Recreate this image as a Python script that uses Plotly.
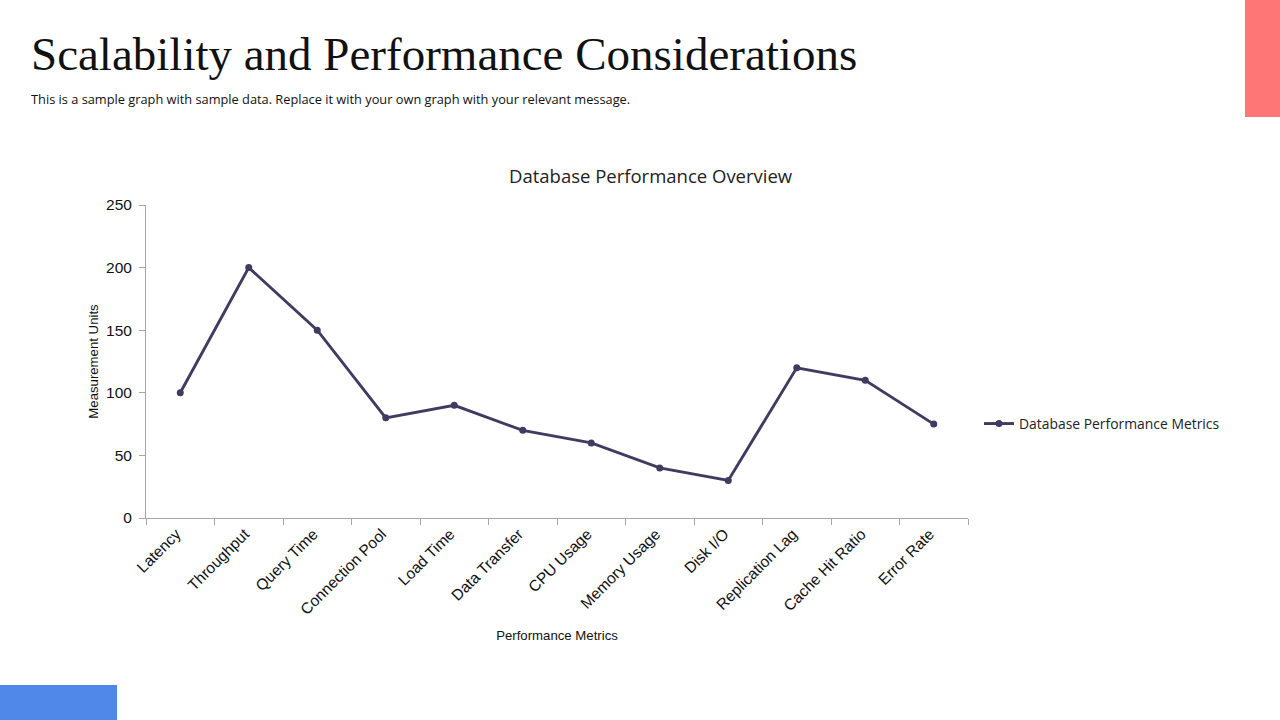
import plotly.graph_objects as go

categories = ["Latency", "Throughput", "Query Time", "Connection Pool", "Load Time",
              "Data Transfer", "CPU Usage", "Memory Usage", "Disk I/O",
              "Replication Lag", "Cache Hit Ratio", "Error Rate"]
values = [100, 200, 150, 80, 90, 70, 60, 40, 30, 120, 110, 75]
series_name = "Database Performance Metrics"
y_ticks = [0, 50, 100, 150, 200, 250]

W, H = 1280, 720
px = lambda x: x / W
py = lambda y: (H - y) / H

line_color = "#403B60"
axis_color = "#A6A6A6"

fig = go.Figure()
fig.add_trace(go.Scatter(
    x=categories, y=values, mode="lines+markers", name=series_name,
    line=dict(color=line_color, width=2.9),
    marker=dict(color=line_color, size=7),
))

fig.update_layout(
    width=W, height=H,
    margin=dict(l=0, r=0, t=0, b=0),
    paper_bgcolor="white", plot_bgcolor="white",
    showlegend=True,
    legend=dict(x=px(979), y=py(424), xanchor="left", yanchor="middle",
                font=dict(family="Open Sans", size=13.9, color="#222222"),
                bgcolor="rgba(0,0,0,0)"),
    xaxis=dict(domain=[px(146), px(968)], type="category", range=[-0.5, len(categories) - 0.5],
               tickson="boundaries", ticks="outside", ticklen=6, tickcolor=axis_color,
               showline=True, linecolor=axis_color, linewidth=1, showgrid=False,
               tickangle=-45, automargin=False, ticklabelshift=-4,
               tickfont=dict(family="Liberation Sans", size=15.5, color="#111111"),
               title=dict(text="Performance Metrics", standoff=13,
                          font=dict(family="Liberation Sans", size=13.2, color="#111111"))),
    yaxis=dict(domain=[py(518), py(205)], range=[0, 250], tickvals=y_ticks,
               ticks="outside", ticklen=6, tickcolor=axis_color,
               showline=True, linecolor=axis_color, linewidth=1, showgrid=False,
               zeroline=False, automargin=False, ticklabelstandoff=4,
               tickfont=dict(family="Liberation Sans", size=15.5, color="#111111"),
               title=dict(text="Measurement Units", standoff=4,
                          font=dict(family="Liberation Sans", size=13.2, color="#111111"))),
    shapes=[
        dict(type="rect", xref="paper", yref="paper", x0=px(1245), x1=1, y0=py(117), y1=1,
             fillcolor="#FF7676", line=dict(width=0), layer="above"),
        dict(type="rect", xref="paper", yref="paper", x0=0, x1=px(117), y0=0, y1=py(685),
             fillcolor="#4F88E8", line=dict(width=0), layer="above"),
    ],
    annotations=[
        dict(text="Scalability and Performance Considerations", xref="paper", yref="paper",
             x=px(29), y=py(54), xanchor="left", yanchor="middle", showarrow=False,
             font=dict(family="Liberation Serif", size=47, color="#111111")),
        dict(text="This is a sample graph with sample data. Replace it with your own graph with your relevant message.",
             xref="paper", yref="paper", x=px(29), y=py(99), xanchor="left", yanchor="middle",
             showarrow=False, font=dict(family="Open Sans", size=12.8, color="#111111")),
        dict(text="Database Performance Overview", xref="paper", yref="paper",
             x=px(651), y=py(175), xanchor="center", yanchor="middle", showarrow=False,
             font=dict(family="Open Sans", size=18.5, color="#222222")),
    ],
)

fig.write_html("out.html", config={"displayModeBar": False},
               post_script="document.body.style.margin='0px';")
